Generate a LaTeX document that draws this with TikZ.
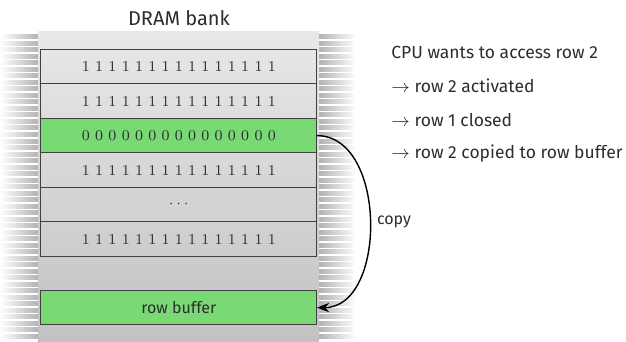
\documentclass[tikz,border=0pt]{standalone}
\usepackage{fontspec}
\setsansfont{Fira Sans}
\usetikzlibrary{positioning, arrows.meta}
\definecolor{light_green}{RGB}{120,217,117}
\definecolor{pin_gray}{RGB}{175,175,175}
\definecolor{text_gray}{RGB}{45,45,45}

\newcommand{\rowones}{1 1 1 1 1 1 1 1 1 1 1 1 1 1 1}
\newcommand{\rowzeros}{0 0 0 0 0 0 0 0 0 0 0 0 0 0 0}

\begin{document}
\begin{tikzpicture}[>=Stealth, x=0.5pt, y=-0.5pt,
    dram_row/.style={draw=black!75, line width=0.6pt, rectangle, minimum width=138pt, minimum height=17.25pt, inner sep=0pt, outer sep=0pt, font=\rmfamily\fontsize{7.5}{9}\selectfont, text=text_gray},
    info_text/.style={font=\sffamily\fontsize{8.75}{10}\selectfont, text=text_gray, inner sep=0pt, anchor=west}]

    \useasboundingbox (0,0) rectangle (626,342);

    % --- Begin Chip Body ---
    \foreach \y in {37,43.5,...,342} {
        \fill[left color=white, right color=pin_gray] (0,\y-2) rectangle (40,\y+2);
        \fill[left color=pin_gray, right color=white] (318,\y-2) rectangle (356,\y+2);
    }
    \fill[top color=black!9, bottom color=black!24] (38.3,32) rectangle (319,342);
    \node[font=\sffamily, text=text_gray] (DramBank) at (179,18) {DRAM bank};
    % --- End Chip Body ---

    % --- Begin Rows ---
    \node[dram_row] (row_one) at (178.85,66.6) {\rowones};
    \node[dram_row, below=0.0cm of row_one] (row_two) {\rowones};
    \node[dram_row, below=0.0cm of row_two, fill=light_green] (row_three) {\rowzeros};
    \node[dram_row, below=0.0cm of row_three] (row_four) {\rowones};
    \node[dram_row, below=0.0cm of row_four] (row_dots) {$\cdots$};
    \node[dram_row, below=0.0cm of row_dots] (row_six) {\rowones};

    \node[dram_row, below=17pt of row_six, fill=light_green, font=\sffamily\footnotesize] (RowBuffer) {row buffer};
    % --- End Rows ---

    % Copy row 2 into the buffer.
    \draw[->, line width=0.7pt] (row_three.east) to[out=0, in=0, looseness=1.05] node[right, font=\sffamily\footnotesize, text=text_gray] (copy_label) {copy} (RowBuffer.east);

    % --- Begin Steps ---
    \node[info_text] (cpu_line) at (391,52) {CPU wants to access row 2};
    \node[info_text, below=17pt of cpu_line.west, anchor=west] (activated_line) {$\rightarrow$ row 2 activated};
    \node[info_text, below=17pt of activated_line.west, anchor=west] (closed_line) {$\rightarrow$ row 1 closed};
    \node[info_text, below=17pt of closed_line.west, anchor=west] (copied_line) {$\rightarrow$ row 2 copied to row buffer};
    % --- End Steps ---

\end{tikzpicture}
\end{document}
